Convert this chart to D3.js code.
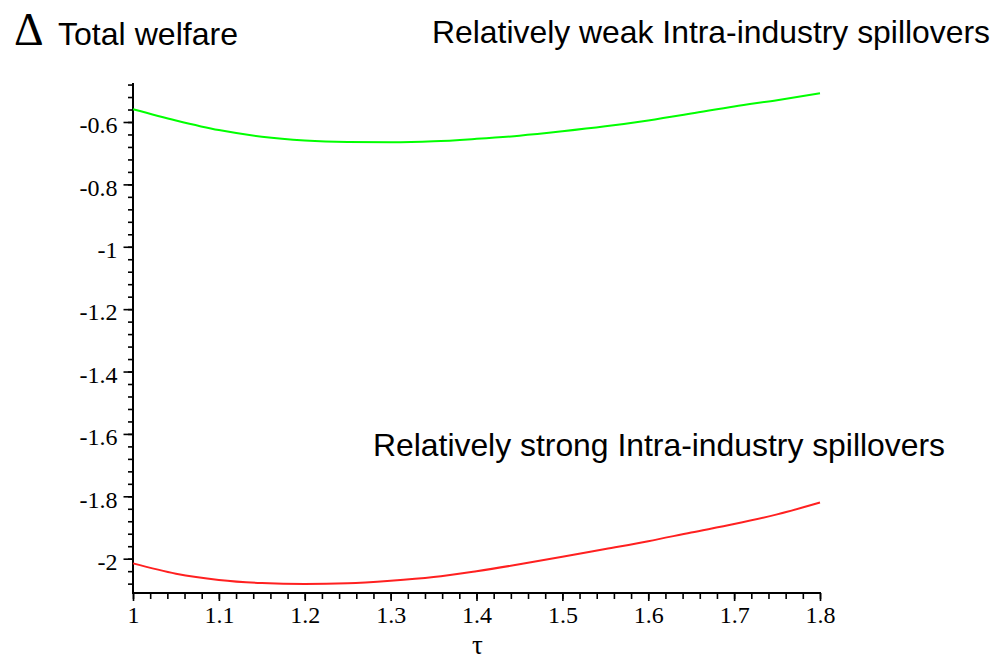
<!DOCTYPE html>
<html>
<head>
<meta charset="utf-8">
<script src="https://cdn.jsdelivr.net/npm/d3@7"></script>
<style>
  body { margin: 0; background: #fff; }
  svg { display: block; }
</style>
</head>
<body>
<div id="chart"></div>
<script>
// tau values and the two welfare curves
const tau = [1, 1.05, 1.1, 1.15, 1.2, 1.25, 1.3, 1.35, 1.4, 1.45, 1.5, 1.55, 1.6, 1.65, 1.7, 1.75, 1.8]
const weakSpill = [-0.559, -0.595, -0.626, -0.647, -0.659, -0.664, -0.665, -0.662, -0.654, -0.644, -0.630, -0.614, -0.595, -0.573, -0.550, -0.530, -0.508]
const strongSpill = [-2.015, -2.048, -2.068, -2.078, -2.081, -2.079, -2.071, -2.059, -2.040, -2.018, -1.994, -1.969, -1.944, -1.916, -1.889, -1.858, -1.820]
const xTickLabels = [1, 1.1, 1.2, 1.3, 1.4, 1.5, 1.6, 1.7, 1.8]
const yTickLabels = [-0.6, -0.8, -1, -1.2, -1.4, -1.6, -1.8, -2]

const width = 1005
const height = 659
const x0 = 133, x1 = 820
const yTop = 83, yBottom = 593

const x = d3.scaleLinear().domain([1, 1.8]).range([x0, x1])
const y = d3.scaleLinear().domain([-2.11, -0.475]).range([yBottom, yTop])

const svg = d3.select('#chart').append('svg')
    .attr('width', width)
    .attr('height', height)

// minor ticks
const yMinor = d3.range(-2.08, -0.47, 0.04)
const xMinor = d3.range(1, 1.8001, 0.02)

svg.append('g')
    .attr('transform', `translate(${x0},0)`)
    .call(d3.axisLeft(y).tickValues(yMinor).tickSize(5).tickFormat(''))
    .call(g => g.select('.domain').remove())
    .call(g => g.selectAll('line').attr('stroke', '#000').attr('stroke-width', 1.6))

svg.append('g')
    .attr('transform', `translate(0,${yBottom})`)
    .call(d3.axisBottom(x).tickValues(xMinor).tickSize(6).tickFormat(''))
    .call(g => g.select('.domain').remove())
    .call(g => g.selectAll('line').attr('stroke', '#000').attr('stroke-width', 1.6))

const tickFont = '"Liberation Serif", serif'

// major y axis
svg.append('g')
    .attr('transform', `translate(${x0},0)`)
    .call(d3.axisLeft(y).tickValues(yTickLabels).tickSize(9.5).tickPadding(6)
        .tickFormat(d => String(d)))
    .call(g => g.select('.domain').remove())
    .call(g => g.selectAll('line').attr('stroke', '#000').attr('stroke-width', 1.6))
    .call(g => g.selectAll('text')
        .attr('fill', '#000')
        .attr('dy', '0.45em')
        .style('font-family', tickFont)
        .style('font-size', '24px'))

// major x axis
svg.append('g')
    .attr('transform', `translate(0,${yBottom})`)
    .call(d3.axisBottom(x).tickValues(xTickLabels).tickSize(8).tickFormat(d => String(d)))
    .call(g => g.select('.domain').remove())
    .call(g => g.selectAll('line').attr('stroke', '#000').attr('stroke-width', 1.6))
    .call(g => g.selectAll('text')
        .attr('fill', '#000')
        .attr('y', 30)
        .attr('dy', 0)
        .style('font-family', tickFont)
        .style('font-size', '24px'))

// axis lines
svg.append('line')
    .attr('x1', x0).attr('x2', x0)
    .attr('y1', yTop).attr('y2', yBottom + 1)
    .attr('stroke', '#000').attr('stroke-width', 2)
svg.append('line')
    .attr('x1', x0).attr('x2', x1 + 1)
    .attr('y1', yBottom).attr('y2', yBottom)
    .attr('stroke', '#000').attr('stroke-width', 2)

const line = d3.line()
    .x(d => x(d[0]))
    .y(d => y(d[1]))
    .curve(d3.curveMonotoneX)

svg.append('path')
    .datum(tau.map((t, i) => [t, weakSpill[i]]))
    .attr('d', line)
    .attr('fill', 'none')
    .attr('stroke', '#00ff00')
    .attr('stroke-width', 2)

svg.append('path')
    .datum(tau.map((t, i) => [t, strongSpill[i]]))
    .attr('d', line)
    .attr('fill', 'none')
    .attr('stroke', '#ff2020')
    .attr('stroke-width', 2)

// labels
const sans = '"Liberation Sans", Arial, sans-serif'

svg.append('text')
    .attr('x', 14).attr('y', 45)
    .attr('font-family', '"Liberation Serif", serif')
    .attr('font-size', 46)
    .text('Δ')

svg.append('text')
    .attr('x', 58).attr('y', 45)
    .attr('font-family', sans)
    .attr('font-size', 32)
    .attr('textLength', 180)
    .attr('lengthAdjust', 'spacingAndGlyphs')
    .text('Total welfare')

svg.append('text')
    .attr('x', 432).attr('y', 43)
    .attr('font-family', sans)
    .attr('font-size', 32)
    .attr('textLength', 558)
    .attr('lengthAdjust', 'spacingAndGlyphs')
    .text('Relatively weak Intra-industry spillovers')

svg.append('text')
    .attr('x', 373).attr('y', 456)
    .attr('font-family', sans)
    .attr('font-size', 32)
    .attr('textLength', 572)
    .attr('lengthAdjust', 'spacingAndGlyphs')
    .text('Relatively strong Intra-industry spillovers')

svg.append('text')
    .attr('x', x(1.4) + 1).attr('y', 654)
    .attr('text-anchor', 'middle')
    .attr('font-family', '"Liberation Serif", serif')
    .attr('font-size', 27)
    .text('τ')
</script>
</body>
</html>
